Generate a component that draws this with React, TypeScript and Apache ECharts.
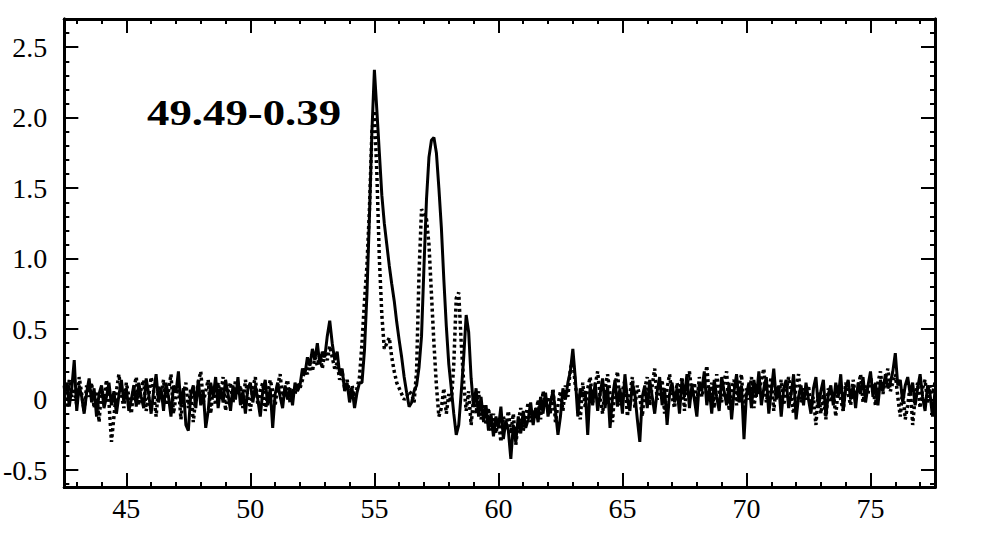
import React, { useEffect, useRef } from "react";
import * as echarts from "echarts";

// sampling grid of the scan (x = X_START + i * X_STEP)
const X_START = 42.5;
const X_STEP = 0.1;

const xMajorTicks = [45, 50, 55, 60, 65, 70, 75];
const xMinorTicks = [43, 44, 46, 47, 48, 49, 51, 52, 53, 54, 56, 57, 58, 59, 61, 62, 63, 64, 66, 67, 68, 69, 71, 72, 73, 74, 76, 77];
const yMajorTicks = [-0.5, 0, 0.5, 1.0, 1.5, 2.0, 2.5];
const yMinorTicks = [-0.6, -0.4, -0.3, -0.2, -0.1, 0.1, 0.2, 0.3, 0.4, 0.6, 0.7, 0.8, 0.9, 1.1, 1.2, 1.3, 1.4, 1.6, 1.7, 1.8, 1.9, 2.1, 2.2, 2.3, 2.4, 2.6];

const label = "49.49-0.39";

// solid trace
const solidValues = [
  0.05, 0.12, -0.05, 0.08, 0.28, -0.08, 0.10, 0.02, -0.10, 0.05,
  0.15, -0.02, 0.08, -0.12, 0.04, 0.10, -0.06, 0.02, 0.12, -0.04,
  0.06, -0.10, 0.03, 0.14, -0.02, 0.08, -0.08, 0.00, 0.10, -0.05,
  0.12, 0.02, -0.06, 0.15, 0.04, -0.10, 0.06, 0.18, -0.02, 0.08,
  -0.08, 0.12, 0.02, -0.12, 0.10, 0.05, 0.20, -0.05, 0.08, -0.18,
  -0.22, 0.04, 0.10, -0.06, 0.14, -0.04, 0.06, -0.20, -0.08, 0.12,
  0.02, 0.16, -0.06, 0.08, -0.02, 0.14, 0.04, -0.08, 0.10, 0.00,
  0.16, -0.04, 0.06, -0.10, 0.08, 0.12, -0.02, 0.10, 0.00, -0.12,
  0.06, 0.14, -0.04, 0.08, -0.20, 0.04, 0.12, 0.02, -0.06, 0.10,
  0.00, 0.08, -0.04, 0.12, 0.06, 0.10, 0.22, 0.18, 0.30, 0.24,
  0.36, 0.28, 0.40, 0.25, 0.34, 0.30, 0.45, 0.56, 0.40, 0.28,
  0.34, 0.18, 0.22, 0.06, 0.12, -0.02, 0.08, -0.06, 0.05, 0.12,
  0.12, 0.35, 0.75, 1.30, 1.90, 2.34, 2.05, 1.75, 1.45, 1.25,
  1.10, 0.95, 0.82, 0.70, 0.55, 0.42, 0.30, 0.16, 0.05, -0.05,
  -0.02, 0.06, 0.10, 0.23, 0.45, 0.95, 1.42, 1.72, 1.84, 1.86,
  1.75, 1.50, 1.22, 0.85, 0.52, 0.25, 0.08, -0.10, -0.25, -0.18,
  0.05, 0.30, 0.60, 0.48, 0.15, -0.05, 0.08, -0.12, 0.02, -0.16,
  -0.04, -0.22, -0.10, -0.26, -0.12, -0.20, -0.05, -0.28, -0.15, -0.22,
  -0.42, -0.18, -0.30, -0.12, -0.24, -0.08, -0.20, -0.14, -0.02, -0.18,
  -0.06, -0.16, 0.02, -0.10, 0.05, -0.12, -0.02, 0.06, -0.08, -0.25,
  -0.12, 0.08, 0.00, 0.12, 0.20, 0.36, 0.15, -0.12, 0.08, 0.02,
  0.06, -0.25, 0.10, -0.04, 0.12, -0.08, 0.04, 0.15, -0.06, 0.10,
  -0.20, 0.02, 0.14, -0.05, 0.08, -0.10, 0.18, 0.00, -0.08, 0.12,
  0.04, -0.14, -0.30, 0.02, 0.10, -0.06, 0.14, 0.02, -0.10, 0.06,
  0.16, -0.04, 0.08, -0.18, 0.04, 0.12, -0.02, 0.08, -0.10, 0.14,
  0.02, 0.18, -0.06, 0.10, 0.00, -0.12, 0.12, 0.06, 0.20, -0.04,
  0.08, -0.10, 0.14, 0.02, -0.08, 0.16, 0.06, -0.04, 0.12, -0.14,
  0.06, 0.18, -0.02, 0.10, -0.28, 0.04, 0.12, -0.06, 0.14, 0.02,
  0.20, -0.04, 0.08, 0.16, -0.10, 0.06, 0.22, 0.00, 0.10, -0.12,
  0.08, 0.14, -0.06, 0.04, 0.18, -0.14, 0.02, 0.10, -0.04, 0.12,
  0.00, -0.10, 0.08, 0.16, -0.06, 0.06, 0.14, -0.12, 0.04, 0.10,
  -0.04, 0.12, 0.02, 0.18, -0.08, 0.08, 0.14, 0.00, 0.10, -0.06,
  0.12, 0.04, 0.16, -0.02, 0.10, 0.20, 0.02, 0.12, -0.04, 0.14,
  0.06, 0.18, 0.08, 0.12, 0.20, 0.33, 0.10, 0.14, -0.02, 0.10,
  0.16, 0.04, 0.12, -0.04, 0.08, 0.18, 0.02, -0.08, 0.10, 0.04,
  -0.12, 0.06,
];

// dotted trace
const dottedValues = [
  0.10, -0.06, 0.14, 0.02, 0.08, -0.04, 0.16, 0.04, -0.08, 0.10,
  0.02, 0.12, -0.06, 0.06, -0.16, 0.08, 0.00, 0.14, -0.02, -0.30,
  -0.12, 0.06, 0.18, 0.04, -0.06, 0.12, 0.02, -0.10, 0.08, 0.16,
  -0.04, 0.08, 0.14, -0.08, 0.02, 0.16, 0.06, -0.12, 0.10, 0.04,
  0.14, -0.04, 0.06, 0.18, -0.10, 0.02, 0.10, -0.14, 0.04, 0.12,
  -0.06, 0.08, -0.16, 0.02, 0.12, 0.20, -0.02, 0.06, 0.14, -0.10,
  0.08, -0.04, 0.12, 0.02, 0.16, -0.08, 0.06, 0.12, -0.02, 0.14,
  0.04, 0.10, -0.06, 0.14, 0.02, -0.08, 0.08, 0.16, -0.04, 0.06,
  0.12, -0.08, 0.04, 0.14, 0.06, -0.04, 0.10, 0.18, 0.00, 0.08,
  0.14, -0.02, 0.08, 0.04, 0.12, 0.08, 0.14, 0.22, 0.18, 0.26,
  0.20, 0.30, 0.24, 0.32, 0.22, 0.34, 0.28, 0.38, 0.30, 0.22,
  0.26, 0.14, 0.20, 0.08, 0.14, 0.04, 0.10, 0.02, 0.08, 0.16,
  0.40, 0.70, 0.95, 1.35, 1.90, 2.05, 1.60, 1.00, 0.60, 0.36,
  0.40, 0.44, 0.30, 0.20, 0.12, 0.08, 0.04, 0.00, 0.02, 0.06,
  0.04, -0.02, 0.20, 0.90, 1.35, 1.32, 1.28, 1.10, 0.75, 0.40,
  0.10, -0.12, -0.06, 0.08, -0.10, 0.04, -0.02, 0.25, 0.72, 0.76,
  0.40, 0.12, -0.08, 0.06, -0.18, 0.02, -0.10, 0.06, -0.14, -0.04,
  -0.18, -0.06, -0.22, -0.10, -0.24, -0.14, -0.30, -0.12, -0.20, -0.08,
  -0.24, -0.10, -0.32, -0.16, -0.06, -0.22, -0.12, -0.02, -0.16, -0.08,
  -0.12, 0.00, -0.14, 0.06, -0.06, 0.02, -0.10, 0.08, -0.16, -0.04,
  0.06, -0.08, 0.10, 0.02, 0.22, 0.28, 0.10, 0.00, -0.14, 0.12,
  -0.06, 0.08, 0.16, -0.02, 0.10, 0.20, 0.02, -0.10, 0.08, 0.18,
  0.04, -0.16, 0.10, 0.20, -0.04, 0.06, 0.14, -0.12, 0.04, 0.16,
  -0.06, 0.10, 0.02, -0.12, 0.08, 0.16, -0.04, 0.10, 0.22, 0.00,
  0.06, 0.14, -0.10, 0.08, 0.18, 0.02, -0.06, 0.12, 0.04, 0.16,
  -0.08, 0.10, 0.20, 0.04, 0.12, -0.04, 0.16, 0.02, 0.10, 0.24,
  0.02, 0.12, -0.06, 0.18, 0.06, -0.02, 0.14, 0.20, -0.08, 0.08,
  0.14, -0.04, 0.10, 0.18, -0.12, 0.08, 0.00, 0.16, -0.06, 0.10,
  0.04, 0.14, 0.22, -0.02, 0.08, 0.16, -0.08, 0.10, 0.02, 0.14,
  -0.04, 0.06, 0.16, 0.02, -0.10, 0.10, 0.18, -0.02, 0.08, 0.00,
  0.10, -0.06, 0.02, -0.18, 0.06, -0.10, 0.04, -0.14, 0.08, -0.02,
  0.06, -0.12, 0.10, 0.00, -0.08, 0.12, 0.04, -0.04, 0.14, 0.02,
  0.08, 0.18, -0.02, 0.10, 0.04, 0.16, 0.08, -0.04, 0.12, 0.20,
  0.04, 0.14, 0.22, 0.06, 0.12, 0.18, 0.02, -0.12, 0.08, -0.14,
  -0.04, 0.10, -0.18, 0.02, 0.12, -0.06, 0.08, 0.14, -0.02, 0.10,
  0.04, 0.12,
];

const X_MIN = 42.5;
const X_MAX = 77.6;
const Y_MIN = -0.62;
const Y_MAX = 2.7;

const FONT = "'Liberation Serif', 'DejaVu Serif', serif";

function toPairs(vals: number[]) {
  return vals.map((v, i) => [+(X_START + i * X_STEP).toFixed(2), v]);
}

export default function App() {
  const ref = useRef<HTMLDivElement>(null);
  useEffect(() => {
    if (!ref.current) return;
    const chart = echarts.init(ref.current, null, { renderer: "svg" });
    const black = "#000";
    const xAxisBase = {
      type: "value" as const,
      min: X_MIN,
      max: X_MAX,
      splitLine: { show: false },
      axisLine: { show: true, onZero: false, lineStyle: { color: black, width: 3 } },
    };
    const yAxisBase = {
      type: "value" as const,
      min: Y_MIN,
      max: Y_MAX,
      splitLine: { show: false },
      axisLine: { show: true, onZero: false, lineStyle: { color: black, width: 3 } },
    };
    const majorTick = (vals: number[]) => ({
      show: true, inside: true, length: 14, customValues: vals,
      lineStyle: { color: black, width: 2 },
    });
    const minorTick = (vals: number[]) => ({
      show: true, inside: true, length: 5, customValues: vals,
      lineStyle: { color: black, width: 2 },
    });
    chart.setOption({
      animation: false,
      backgroundColor: "#fff",
      grid: { left: 63, right: 46, top: 19, bottom: 63, containLabel: false },
      xAxis: [
        {
          ...xAxisBase, position: "bottom",
          axisTick: majorTick(xMajorTicks),
          axisLabel: {
            show: true, customValues: xMajorTicks, margin: 7,
            color: black, fontFamily: FONT, fontSize: 28,
            formatter: (v: number) => String(v),
          },
        },
        {
          ...xAxisBase, position: "bottom",
          axisTick: minorTick(xMinorTicks), axisLabel: { show: false },
        },
        {
          ...xAxisBase, position: "top",
          axisTick: majorTick(xMajorTicks), axisLabel: { show: false },
        },
        {
          ...xAxisBase, position: "top",
          axisTick: minorTick(xMinorTicks), axisLabel: { show: false },
        },
      ],
      yAxis: [
        {
          ...yAxisBase, position: "left",
          axisTick: majorTick(yMajorTicks),
          axisLabel: {
            show: true, customValues: yMajorTicks, margin: 17,
            color: black, fontFamily: FONT, fontSize: 28,
            formatter: (v: number) => (Math.abs(v) < 1e-9 ? "0" : v.toFixed(1)),
          },
        },
        {
          ...yAxisBase, position: "left",
          axisTick: minorTick(yMinorTicks), axisLabel: { show: false },
        },
        {
          ...yAxisBase, position: "right",
          axisTick: majorTick(yMajorTicks), axisLabel: { show: false },
        },
        {
          ...yAxisBase, position: "right",
          axisTick: minorTick(yMinorTicks), axisLabel: { show: false },
        },
      ],
      graphic: [
        {
          type: "text",
          x: 147,
          y: 96,
          scaleX: 1.28,
          style: {
            text: label,
            fontFamily: FONT,
            fontWeight: "bold",
            fontSize: 35,
            fill: black,
            verticalAlign: "top",
            align: "left",
          },
        },
      ],
      series: [
        {
          type: "line",
          name: "dotted",
          xAxisIndex: 0,
          yAxisIndex: 0,
          data: toPairs(dottedValues),
          showSymbol: false,
          symbol: "none",
          lineStyle: { color: black, width: 3.5, type: [3, 3] },
          z: 2,
        },
        {
          type: "line",
          name: "solid",
          xAxisIndex: 0,
          yAxisIndex: 0,
          data: toPairs(solidValues),
          showSymbol: false,
          symbol: "none",
          lineStyle: { color: black, width: 3 },
          z: 3,
        },
      ],
    });
    return () => chart.dispose();
  }, []);
  return (
    <div
      ref={ref}
      style={{ position: "fixed", left: 0, top: 0, width: 981, height: 550, background: "#fff" }}
    />
  );
}
